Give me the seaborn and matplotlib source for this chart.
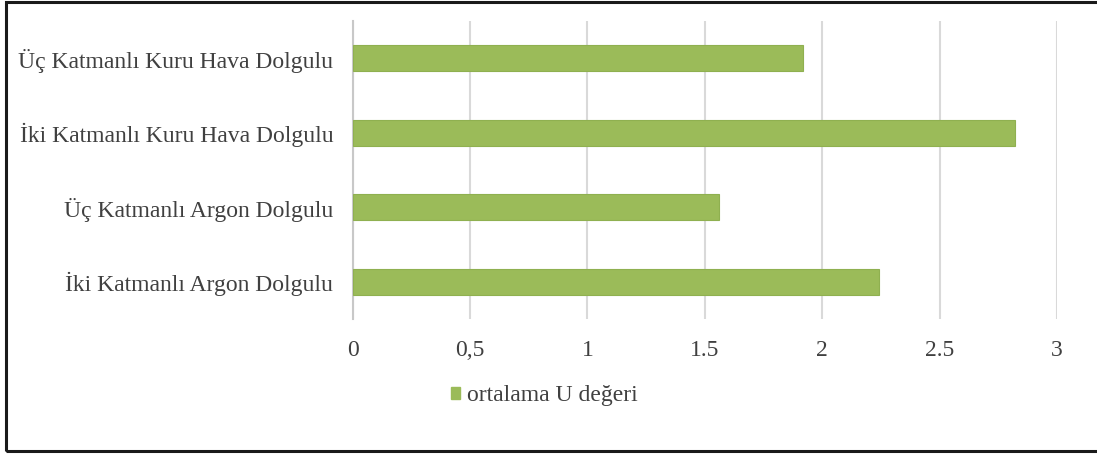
import matplotlib
matplotlib.use("Agg")
import matplotlib.pyplot as plt
from matplotlib.patches import Rectangle, Patch
import pandas as pd
import seaborn as sns

# Data
categories = [
    "Üç Katmanlı Kuru Hava Dolgulu",
    "İki Katmanlı Kuru Hava Dolgulu",
    "Üç Katmanlı Argon Dolgulu",
    "İki Katmanlı Argon Dolgulu",
]
u_values = [1.92, 2.82, 1.56, 2.24]
series_name = "ortalama U değeri"
x_ticks = [0, 0.5, 1, 1.5, 2, 2.5, 3]
x_tick_labels = ["0", "0,5", "1", "1.5", "2", "2.5", "3"]

df = pd.DataFrame({"kategori": categories, "deger": u_values, "seri": series_name})

sns.set_theme(style="white")
plt.rcParams["font.family"] = ["Liberation Serif", "DejaVu Serif"]

bar_green = "#9BBB59"
grid_gray = "#d9d9d9"
text_gray = "#404040"
fs = 17

fig = plt.figure(figsize=(10.97, 4.54), dpi=100)
ax = fig.add_axes([0.3215, 0.2974, 0.642, 0.6564])

sns.barplot(
    data=df, x="deger", y="kategori", hue="seri", orient="h",
    palette=[bar_green], width=0.35, dodge=False, ax=ax, saturation=1,
    edgecolor="#8FB050", linewidth=0.8, legend=False, zorder=3,
)

ax.set_xlim(0, 3)
ax.set_xticks(x_ticks)
ax.set_xticklabels(x_tick_labels)
ax.set_xlabel("")
ax.set_ylabel("")
ax.xaxis.grid(True, color=grid_gray, linewidth=1.5, zorder=0)
ax.set_axisbelow(True)

for side in ["top", "right", "bottom"]:
    ax.spines[side].set_visible(False)
ax.spines["left"].set_color("#c8c8c8")
ax.spines["left"].set_linewidth(1.5)

ax.tick_params(axis="x", length=3, color=grid_gray, width=1.5, pad=12,
               labelsize=fs, labelcolor=text_gray)
ax.tick_params(axis="y", length=0, pad=14, labelsize=fs, labelcolor=text_gray)

# Legend below the plot
handle = Patch(facecolor=bar_green, edgecolor=bar_green, label=series_name)
fig.legend(
    handles=[handle], loc="center left", bbox_to_anchor=(0.392, 0.128),
    frameon=False, handlelength=0.36, handleheight=0.36, handletextpad=0.3,
    prop={"size": fs}, labelcolor=text_gray,
)

# Outer frame
fig.patches.append(Rectangle((6 / 1097, 3 / 454), 1.2, 449 / 454,
                             transform=fig.transFigure, fill=False,
                             edgecolor="#1a1a1a", linewidth=2.2))

fig.savefig("out.png", dpi=100, facecolor="white")
